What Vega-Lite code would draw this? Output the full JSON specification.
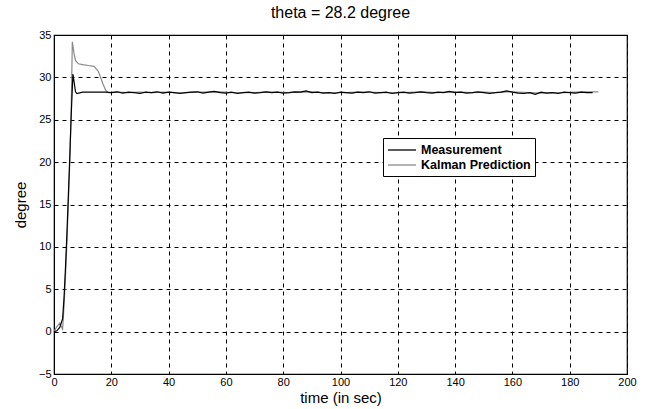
{
  "$schema": "https://vega.github.io/schema/vega-lite/v6.json",
  "autosize": "none",
  "width": 573,
  "height": 339,
  "padding": {"left": 54, "top": 35, "right": 20, "bottom": 35},
  "background": "white",
  "config": {
    "font": "Liberation Sans",
    "view": {"stroke": "black", "strokeWidth": 1.2},
    "axis": {
      "domainColor": "black",
      "grid": true,
      "gridColor": "black",
      "gridDash": [4, 4],
      "gridOpacity": 1,
      "gridWidth": 1,
      "ticks": false,
      "labelFlush": false,
      "labelColor": "black",
      "labelFontSize": 11,
      "labelFont": "Liberation Sans",
      "titleFont": "Liberation Sans",
      "titleFontSize": 15,
      "titleFontWeight": "normal",
      "titleColor": "black"
    }
  },
  "title": {
    "text": "theta = 28.2  degree",
    "fontSize": 16,
    "fontWeight": "normal",
    "font": "Liberation Sans",
    "color": "black",
    "offset": 8
  },
  "layer": [
    {
      "data": {"values": [
        {"t": 0, "v": 0}, {"t": 1, "v": 0.6}, {"t": 2, "v": 1.0}, {"t": 3, "v": 0.3},
        {"t": 3.5, "v": 3}, {"t": 4, "v": 6.5}, {"t": 4.5, "v": 10.5}, {"t": 5, "v": 15},
        {"t": 5.5, "v": 20}, {"t": 6, "v": 26}, {"t": 6.4, "v": 34.2}, {"t": 7, "v": 32.8},
        {"t": 7.5, "v": 32.0}, {"t": 8.5, "v": 31.6}, {"t": 10, "v": 31.5}, {"t": 12, "v": 31.4},
        {"t": 14, "v": 31.3}, {"t": 15.5, "v": 30.7}, {"t": 17, "v": 29.3}, {"t": 18, "v": 28.5},
        {"t": 19, "v": 28.2}, {"t": 22, "v": 28.25}, {"t": 26, "v": 28.2}, {"t": 30, "v": 28.25},
        {"t": 34, "v": 28.2}, {"t": 38, "v": 28.25}, {"t": 42, "v": 28.2}, {"t": 46, "v": 28.2},
        {"t": 50, "v": 28.25}, {"t": 54, "v": 28.25}, {"t": 58, "v": 28.3}, {"t": 62, "v": 28.2},
        {"t": 66, "v": 28.2}, {"t": 70, "v": 28.2}, {"t": 74, "v": 28.25}, {"t": 78, "v": 28.25},
        {"t": 82, "v": 28.2}, {"t": 86, "v": 28.25}, {"t": 90, "v": 28.3}, {"t": 94, "v": 28.2},
        {"t": 98, "v": 28.2}, {"t": 102, "v": 28.2}, {"t": 106, "v": 28.25}, {"t": 110, "v": 28.25},
        {"t": 114, "v": 28.2}, {"t": 118, "v": 28.2}, {"t": 122, "v": 28.2}, {"t": 126, "v": 28.25},
        {"t": 130, "v": 28.25}, {"t": 134, "v": 28.2}, {"t": 138, "v": 28.3}, {"t": 142, "v": 28.25},
        {"t": 146, "v": 28.2}, {"t": 150, "v": 28.25}, {"t": 154, "v": 28.2}, {"t": 158, "v": 28.3},
        {"t": 162, "v": 28.25}, {"t": 166, "v": 28.2}, {"t": 170, "v": 28.15}, {"t": 174, "v": 28.2},
        {"t": 178, "v": 28.2}, {"t": 182, "v": 28.25}, {"t": 186, "v": 28.3}, {"t": 190, "v": 28.3}
      ]},
      "mark": {"type": "line", "strokeWidth": 1.2, "interpolate": "linear"},
      "encoding": {
        "x": {"field": "t", "type": "quantitative"},
        "y": {"field": "v", "type": "quantitative"},
        "color": {"datum": "Kalman Prediction"}
      }
    },
    {
      "data": {"values": [
        {"t": 0, "v": 0}, {"t": 1, "v": 0.1}, {"t": 2, "v": 0.5}, {"t": 3, "v": 1.5},
        {"t": 3.5, "v": 4}, {"t": 4, "v": 7.5}, {"t": 4.5, "v": 11.5}, {"t": 5, "v": 16},
        {"t": 5.5, "v": 20.5}, {"t": 6, "v": 25.5}, {"t": 6.6, "v": 30.4}, {"t": 7, "v": 29.5},
        {"t": 7.5, "v": 28.3}, {"t": 8, "v": 28.1}, {"t": 10, "v": 28.25}, {"t": 12, "v": 28.25},
        {"t": 14, "v": 28.25}, {"t": 16, "v": 28.25}, {"t": 18, "v": 28.25},
        {"t": 20, "v": 28.2}, {"t": 22, "v": 28.3}, {"t": 24, "v": 28.15}, {"t": 26, "v": 28.25},
        {"t": 28, "v": 28.2}, {"t": 30, "v": 28.1}, {"t": 32, "v": 28.25}, {"t": 34, "v": 28.2},
        {"t": 36, "v": 28.3}, {"t": 38, "v": 28.15}, {"t": 40, "v": 28.25}, {"t": 42, "v": 28.2},
        {"t": 44, "v": 28.1}, {"t": 46, "v": 28.2}, {"t": 48, "v": 28.25}, {"t": 50, "v": 28.3},
        {"t": 52, "v": 28.15}, {"t": 54, "v": 28.25}, {"t": 56, "v": 28.35}, {"t": 58, "v": 28.2},
        {"t": 60, "v": 28.15}, {"t": 62, "v": 28.25}, {"t": 64, "v": 28.1}, {"t": 66, "v": 28.2},
        {"t": 68, "v": 28.25}, {"t": 70, "v": 28.15}, {"t": 72, "v": 28.2}, {"t": 74, "v": 28.3},
        {"t": 76, "v": 28.2}, {"t": 78, "v": 28.25}, {"t": 80, "v": 28.15}, {"t": 82, "v": 28.2},
        {"t": 84, "v": 28.3}, {"t": 86, "v": 28.25}, {"t": 88, "v": 28.4}, {"t": 90, "v": 28.2},
        {"t": 92, "v": 28.25}, {"t": 94, "v": 28.15}, {"t": 96, "v": 28.2}, {"t": 98, "v": 28.1},
        {"t": 100, "v": 28.25}, {"t": 102, "v": 28.2}, {"t": 104, "v": 28.15}, {"t": 106, "v": 28.25},
        {"t": 108, "v": 28.2}, {"t": 110, "v": 28.3}, {"t": 112, "v": 28.15}, {"t": 114, "v": 28.2},
        {"t": 116, "v": 28.25}, {"t": 118, "v": 28.1}, {"t": 120, "v": 28.2}, {"t": 122, "v": 28.25},
        {"t": 124, "v": 28.15}, {"t": 126, "v": 28.2}, {"t": 128, "v": 28.3}, {"t": 130, "v": 28.2},
        {"t": 132, "v": 28.15}, {"t": 134, "v": 28.25}, {"t": 136, "v": 28.2}, {"t": 138, "v": 28.35},
        {"t": 140, "v": 28.2}, {"t": 142, "v": 28.25}, {"t": 144, "v": 28.15}, {"t": 146, "v": 28.2},
        {"t": 148, "v": 28.3}, {"t": 150, "v": 28.2}, {"t": 152, "v": 28.1}, {"t": 154, "v": 28.2},
        {"t": 156, "v": 28.25}, {"t": 158, "v": 28.4}, {"t": 160, "v": 28.25}, {"t": 162, "v": 28.15},
        {"t": 164, "v": 28.1}, {"t": 166, "v": 28.2}, {"t": 168, "v": 28.0}, {"t": 170, "v": 28.25},
        {"t": 172, "v": 28.15}, {"t": 174, "v": 28.2}, {"t": 176, "v": 28.1}, {"t": 178, "v": 28.25},
        {"t": 180, "v": 28.2}, {"t": 182, "v": 28.15}, {"t": 184, "v": 28.25}, {"t": 186, "v": 28.2},
        {"t": 188, "v": 28.2}
      ]},
      "mark": {"type": "line", "strokeWidth": 1.2, "interpolate": "linear"},
      "encoding": {
        "x": {
          "field": "t", "type": "quantitative",
          "scale": {"domain": [0, 200], "nice": false, "zero": false},
          "axis": {"values": [0, 20, 40, 60, 80, 100, 120, 140, 160, 180, 200], "title": "time (in sec)", "titlePadding": 3, "labelPadding": 2}
        },
        "y": {
          "field": "v", "type": "quantitative",
          "scale": {"domain": [-5, 35], "nice": false, "zero": false},
          "axis": {"values": [-5, 0, 5, 10, 15, 20, 25, 30, 35], "title": "degree", "titlePadding": 10, "labelPadding": 3}
        },
        "color": {
          "datum": "Measurement",
          "scale": {"domain": ["Measurement", "Kalman Prediction"], "range": ["black", "#8a8a8a"]},
          "legend": {
            "title": null,
            "orient": "none",
            "legendX": 329,
            "legendY": 103,
            "symbolType": "M-1,0H3",
            "symbolSize": 196,
            "symbolStrokeWidth": 1.3,
            "symbolFillColor": "transparent",
            "labelFontSize": 12.5,
            "labelFontWeight": "bold",
            "labelColor": "black",
            "labelOffset": 18,
            "rowPadding": 0,
            "padding": 4,
            "strokeColor": "black",
            "fillColor": "white"
          }
        }
      }
    }
  ]
}
